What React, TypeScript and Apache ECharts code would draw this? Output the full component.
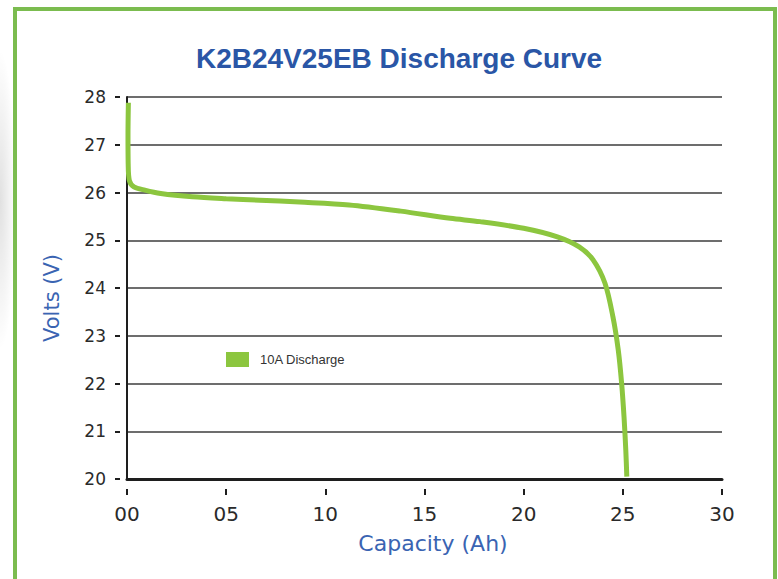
import React, { useEffect, useRef } from "react";
import * as echarts from "echarts";

const titleText = "K2B24V25EB Discharge Curve";
const seriesName = "10A Discharge";
const xAxisName = "Capacity (Ah)";
const yAxisName = "Volts (V)";
const xTickLabels = ["00", "05", "10", "15", "20", "25", "30"];
const capacityAh = [
  0.07, 0.05, 0.06, 0.12, 0.35, 0.9, 1.7, 3.3, 5.0, 6.7, 8.7, 11.2, 13.8, 16.3,
  17.8, 20.0, 21.7, 22.8, 23.5, 24.1, 24.5, 24.77, 24.94, 25.06, 25.15, 25.2,
];
const voltage = [
  27.88, 27.2, 26.6, 26.25, 26.12, 26.05, 25.98, 25.91, 25.87, 25.84, 25.8,
  25.74, 25.61, 25.46, 25.39, 25.25, 25.07, 24.86, 24.59, 24.1, 23.4, 22.7,
  22.0, 21.3, 20.6, 20.05,
];

export default function App() {
  const ref = useRef<HTMLDivElement>(null);
  useEffect(() => {
    if (!ref.current) return;
    const chart = echarts.init(ref.current, undefined, { renderer: "svg" });
    const data = capacityAh.map((x, i) => [x, voltage[i]]);
    const tickFont = "DejaVu Sans";
    const invisibleLine = {
      show: true,
      onZero: false,
      lineStyle: { color: "rgba(0,0,0,0)", width: 1 },
    };
    chart.setOption({
      animation: false,
      backgroundColor: "#ffffff",
      grid: { left: 127, right: 56, top: 97, bottom: 100, containLabel: false },
      legend: {
        data: [seriesName],
        left: 221,
        top: 347,
        icon: "rect",
        itemWidth: 23,
        itemHeight: 15,
        textStyle: {
          fontFamily: "Liberation Sans",
          fontSize: 13,
          color: "#333333",
          padding: [0, 0, 0, 6],
        },
      },
      xAxis: [
        {
          type: "value",
          min: 0,
          max: 30,
          interval: 5,
          position: "bottom",
          axisLine: { show: true, onZero: false, lineStyle: { color: "#1e1e1e", width: 3 } },
          axisTick: { show: false },
          axisLabel: { show: false },
          splitLine: { show: false },
        },
        {
          type: "value",
          min: 0,
          max: 30,
          interval: 5,
          position: "bottom",
          offset: 10,
          axisLine: invisibleLine,
          axisTick: { show: true, inside: false, length: 6, lineStyle: { color: "#1e1e1e", width: 2 } },
          axisLabel: {
            show: true,
            margin: 15,
            fontFamily: tickFont,
            fontSize: 20,
            color: "#2a2a2a",
            formatter: (v: number) => xTickLabels[Math.round(v / 5)] ?? "",
          },
          splitLine: { show: false },
        },
      ],
      yAxis: [
        {
          type: "value",
          min: 20,
          max: 28,
          interval: 1,
          position: "left",
          axisLine: { show: true, onZero: false, lineStyle: { color: "#1e1e1e", width: 2 } },
          axisTick: { show: false },
          axisLabel: { show: false },
          splitLine: { show: true, lineStyle: { color: "#3c3c3c", width: 1.5 } },
        },
        {
          type: "value",
          min: 20,
          max: 28,
          interval: 1,
          position: "left",
          offset: 7,
          axisLine: invisibleLine,
          axisTick: { show: true, inside: false, length: 5, lineStyle: { color: "#1e1e1e", width: 2 } },
          axisLabel: {
            show: true,
            margin: 14,
            fontFamily: tickFont,
            fontSize: 17,
            color: "#2a2a2a",
          },
          splitLine: { show: false },
        },
      ],
      series: [
        {
          name: seriesName,
          type: "line",
          xAxisIndex: 0,
          yAxisIndex: 0,
          data,
          smooth: 0.3,
          showSymbol: false,
          symbol: "none",
          itemStyle: { color: "#8cc63f" },
          lineStyle: { color: "#8cc63f", width: 5 },
        },
      ],
      graphic: [
        {
          type: "ellipse",
          z: -10,
          shape: { cx: 0, cy: 200, rx: 16, ry: 150 },
          style: {
            fill: {
              type: "radial",
              x: 0.5,
              y: 0.5,
              r: 0.5,
              colorStops: [
                { offset: 0, color: "rgba(0,0,0,0.12)" },
                { offset: 1, color: "rgba(0,0,0,0)" },
              ],
            },
          },
          silent: true,
        },
        {
          type: "rect",
          z: 10,
          shape: { x: 15, y: 9, width: 760, height: 600 },
          style: { fill: "transparent", stroke: "#7bbc4f", lineWidth: 4 },
          silent: true,
        },
        {
          type: "text",
          x: 399,
          y: 58,
          style: {
            text: titleText,
            font: "bold 28px 'Liberation Sans'",
            fill: "#2a56a6",
            textAlign: "center",
            textVerticalAlign: "middle",
            align: "center",
            verticalAlign: "middle",
          },
        },
        {
          type: "text",
          x: 433,
          y: 543,
          style: {
            text: xAxisName,
            font: "22px 'DejaVu Sans'",
            fill: "#3a64b2",
            textAlign: "center",
            textVerticalAlign: "middle",
            align: "center",
            verticalAlign: "middle",
          },
        },
        {
          type: "text",
          x: 52,
          y: 298,
          rotation: Math.PI / 2,
          style: {
            text: yAxisName,
            font: "21px 'DejaVu Sans'",
            fill: "#3a64b2",
            textAlign: "center",
            textVerticalAlign: "middle",
            align: "center",
            verticalAlign: "middle",
          },
        },
      ],
    });
    return () => chart.dispose();
  }, []);
  return (
    <div
      ref={ref}
      style={{ position: "fixed", left: 0, top: 0, width: 778, height: 579 }}
    />
  );
}
